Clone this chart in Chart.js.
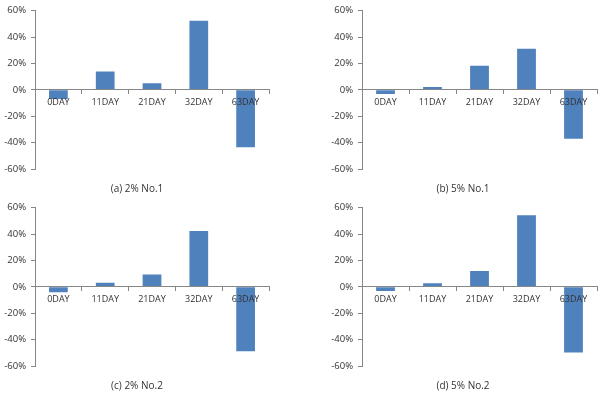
<!DOCTYPE html>
<html>
<head>
<meta charset="utf-8">
<script src="https://cdn.jsdelivr.net/npm/chart.js@4/dist/chart.umd.min.js"></script>
<style>
  html, body { margin: 0; padding: 0; background: #fff; }
  body { width: 600px; height: 393px; position: relative; overflow: hidden; font-family: "Open Sans", sans-serif; }
  .box { position: absolute; width: 300px; height: 196px; }
  .cap { position: absolute; font-family: "Open Sans", sans-serif; font-size: 10px; color: #333; white-space: nowrap; transform: translate(-50%, -50%); }
</style>
</head>
<body>
<div class="box" style="left:0;top:0"><canvas id="c0"></canvas></div>
<div class="box" style="left:300px;top:0"><canvas id="c1"></canvas></div>
<div class="box" style="left:0;top:197px"><canvas id="c2"></canvas></div>
<div class="box" style="left:300px;top:197px"><canvas id="c3"></canvas></div>
<div class="cap" style="left:137px;top:188px">(a) 2% No.1</div>
<div class="cap" style="left:463px;top:188px">(b) 5% No.1</div>
<div class="cap" style="left:137px;top:385px">(c) 2% No.2</div>
<div class="cap" style="left:463px;top:385px">(d) 5% No.2</div>
<script>
const categories = ["0DAY", "11DAY", "21DAY", "32DAY", "63DAY"];
const seriesA = [-7, 14, 5, 52.3, -43.5];   // (a) 2% No.1
const seriesB = [-3.2, 2.2, 18.3, 31.1, -37]; // (b) 5% No.1
const seriesC = [-4, 3.2, 9.4, 42.4, -48.8];  // (c) 2% No.2
const seriesD = [-3.2, 2.7, 12.1, 54.3, -49.8]; // (d) 5% No.2
const yMin = -60, yMax = 60, yStep = 20;

const axisColor = "#868686";
const textColor = "#333333";
const barColor = "#4F81BD";

function makeChart(id, values, axisW, padRight) {
  return new Chart(document.getElementById(id), {
    type: "bar",
    data: {
      labels: categories,
      datasets: [{
        data: values,
        backgroundColor: barColor,
        borderWidth: 0,
        barPercentage: 0.4,
        categoryPercentage: 1.0
      }]
    },
    options: {
      responsive: true,
      maintainAspectRatio: false,
      animation: false,
      layout: { padding: { left: 0, right: padRight, top: 7, bottom: 27 } },
      plugins: { legend: { display: false }, tooltip: { enabled: false } },
      scales: {
        x: {
          position: { y: 0 },
          grid: { display: true, drawOnChartArea: false, drawTicks: true, tickLength: 4, color: axisColor, offset: true, z: 1 },
          border: { display: true, color: axisColor, width: 1, z: 1 },
          ticks: { z: 2, color: textColor, font: { family: "Open Sans", size: 9 }, padding: 3, maxRotation: 0, autoSkip: false }
        },
        y: {
          min: yMin, max: yMax,
          afterFit: (s) => { s.width = axisW; },
          grid: { display: true, drawOnChartArea: false, drawTicks: true, tickLength: 4, color: axisColor },
          border: { display: true, color: axisColor, width: 1 },
          ticks: { stepSize: yStep, color: textColor, font: { family: "Open Sans", size: 9.5 }, padding: 5,
                   callback: (v) => v + "%" }
        }
      }
    }
  });
}

makeChart("c0", seriesA, 35, 31);
makeChart("c1", seriesB, 62, 3);
makeChart("c2", seriesC, 35, 31);
makeChart("c3", seriesD, 62, 3);
</script>
</body>
</html>
